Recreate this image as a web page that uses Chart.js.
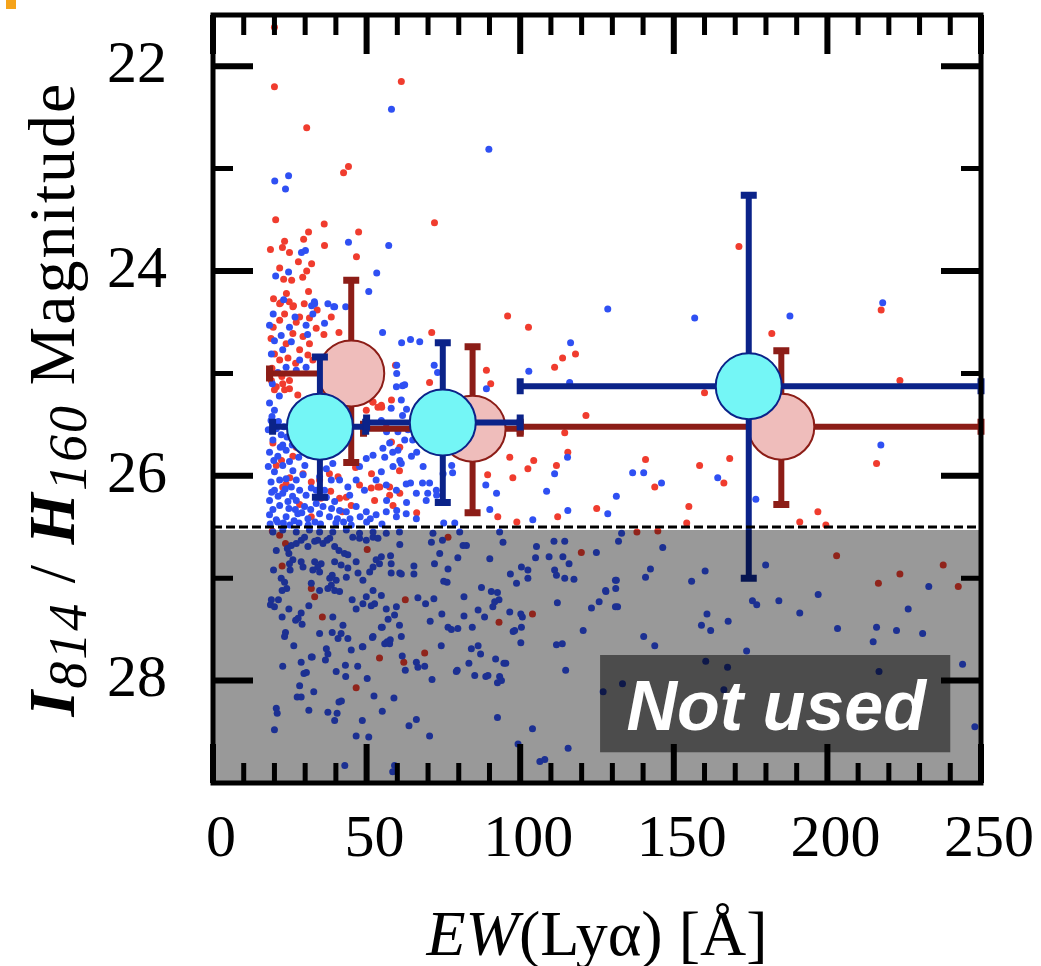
<!DOCTYPE html>
<html>
<head>
<meta charset="utf-8">
<script src="https://cdn.jsdelivr.net/npm/chart.js@4.4.1/dist/chart.umd.min.js"></script>
<style>
  html, body { margin: 0; padding: 0; background: #fff; }
  canvas { display: block; }
</style>
</head>
<body>
<canvas id="myChart" width="1041" height="966"></canvas>
<script>
'use strict';
// axis ticks
var xTicks = [0, 50, 100, 150, 200, 250];
var xMinor = [10, 20, 30, 40, 60, 70, 80, 90, 110, 120, 130, 140, 160, 170, 180, 190, 210, 220, 230, 240];
var yTicks = [22, 24, 26, 28];
var yMinor = [23, 25, 27];
var magLimit = 26.5;

// binned averages (EW, mag) with error bar ends
var redBinEW = [45, 84.5, 185];
var redBinMag = [25.0, 25.54, 25.52];
var redBinEWLo = [18.4, 49, 100];
var redBinEWHi = [50, 100, 250];
var redBinMagLo = [24.09, 24.74, 24.78];
var redBinMagHi = [25.87, 26.36, 26.28];

var blueBinEW = [34.8, 74.8, 174.4];
var blueBinMag = [25.52, 25.48, 25.125];
var blueBinEWLo = [19.4, 50, 100];
var blueBinEWHi = [49.7, 100, 250];
var blueBinMagLo = [24.84, 24.70, 23.26];
var blueBinMagHi = [26.21, 26.26, 27.0];

// individual objects [EW, mag]
var redObjects = [
  [20,21.62],[20,22.2],[61.3,22.15],[30.5,22.6],[44.1,22.98],[42.5,23.04],[20.4,23.5],[36.2,23.54],[72.1,23.53],
  [31.1,23.62],[47.4,23.62],[29.5,23.69],[23.3,23.71],[22.6,23.77],[18.7,23.79],[24.9,23.82],[36.3,23.75],[46.7,23.86],
  [27.8,23.91],[32.1,23.93],[21.7,23.97],[30.5,24.0],[29.2,24.06],[23,24.08],[25.6,24.09],[31.1,24.2],[19.7,24.27],
  [22,24.31],[23.9,24.22],[26.2,24.34],
  [171.2,23.76],[217.5,24.38],[181.9,24.61],[223.6,25.07],[160,25.19],[216,25.88],[140.8,25.84],[168.2,25.83],
  [158.4,25.9],[143.8,26.11],[166.3,26.07],[154.9,26.3],[196.9,26.35],[191,26.45],[154.2,26.46],[199.5,26.48],
  [95.9,24.44],[102.7,24.55],[71.2,24.6],[118,24.81],[113.8,24.85],[111.2,24.94],[89,24.97],[90.4,25.1],[121.4,25.41],
  [114.5,25.58],[111.8,25.9],[115.5,25.77],[96.6,25.82],[102.5,25.93],[104.4,25.85],[97.6,26.02],[124.9,26.32],
  [112.2,26.4],[98.9,26.45],[92.7,26.4],[89.4,25.99],[66.3,26.36],[60.8,26.17],[57.5,26.11],[54.3,26.11],[51.6,25.98],
  [58.1,25.26],[54.9,25.33],[52,25.28],[58.1,25.67],[60.8,25.72],[70.5,25.09],[59.4,24.92],
  [21.7,24.32],[26,24.35],[23.3,24.42],[28.2,24.45],[21.7,24.48],[27.1,24.5],[31.4,24.46],[33.6,24.56],[29.3,24.64],
  [31.4,24.71],[23.8,24.71],[26,24.61],[20,24.81],[21.7,24.87],[24.4,24.85],[28.2,24.77],[30.9,24.82],[32.5,24.87],
  [19,25.07],[20.6,25.13],[23.3,25.16],[24.9,25.07],[19.2,24.95],[22.4,25.03],[38.5,24.45],[41,24.6],
  [22.7,25.1],[20,25.16],[24.9,25.15],[27.6,25.21],[19.5,25.68],[20.6,25.9],[27.1,25.72],[26,25.81],[29.3,25.98],
  [23.8,26.08],[32,26.06],[22.7,26.11],[40.7,26.01],[43.4,26.21],[45,26.29],[41.2,26.22],[47.7,26.09],[51.5,26.12],
  [53.7,26.11],[52.6,26.24],[57.5,26.19],[58.6,26.29],[60.7,25.95],[53.7,25.33],[54.8,25.31],[56.4,25.49],[52.1,25.28],
  [48.8,25.2],[49.9,25.36],[32,26.4],[37.9,25.98],[34.7,26.04],
  [25.3,25.5],[28.5,25.6],[30.7,25.55],[22.3,25.85],[25,26.02],[28.2,26.28],[35.1,26.22],[38.3,26.15],[42.1,26.35],
  [19.6,24.55],[24.8,24.3],[29.7,24.32],[33.9,24.38],[36.1,24.62],[39.2,24.78],[18.9,24.66],[26.9,24.9],[46.4,25.92],
  [19.3,26.54],[21.7,26.58],[23.6,26.66],[22.5,26.88],[32,27.1],[33.1,27.18],[35.6,27.38],[46.6,28.07],[54.2,27.78],
  [62.1,27.82],[68.9,27.73],[62.6,27.21],[76.5,26.6],[93.1,27.43],[104,27.35],[119.9,26.75],[50.2,26.72],[203,26.78],
  [216.6,27.05],[223.6,26.96],[237.7,26.87],[242.6,27.08],[138,26.55],[144.8,26.54]
];

var blueObjects = [
  [58.1,22.42],[89.8,22.81],[20.1,23.12],[24.6,23.07],[23.6,23.2],[44.1,23.72],[28.8,23.82],[30.1,23.8],[57.2,23.75],
  [20.4,24.05],[24.6,24.01],[53.3,24.02],[50.7,24.2],[33,24.3],[32.1,24.34],[39.3,24.35],[43.2,24.35],[23,24.28],
  [218,24.31],[128.5,24.37],[156.8,24.46],[187.8,24.44],[217.4,25.7],[136.6,25.97],[140.2,25.97],[146,26.07],
  [164.3,26.02],[131.3,26.2],[128.5,26.37],[176.7,26.23],
  [61.4,24.7],[64.3,24.67],[67.3,24.69],[55.2,24.6],[116.4,24.7],[102.8,24.98],[89,25.15],[116.1,25.09],[59.8,25.0],
  [61.7,25.12],[59.8,24.92],[115.4,25.82],[111.2,25.98],[108.6,26.15],[115.5,26.34],[104.1,26.43],[90.1,26.33],
  [92.3,26.17],[88.8,26.09],[78,25.97],[77.7,25.9],[68.2,26.07],[70.5,26.07],[69.9,26.17],[72.8,26.19],[75.1,26.46],
  [78.7,26.46],[64.3,26.07],[63,26.26],[59.8,26.34],[56.5,26.24],[63,25.35],[61.7,25.41],[56.5,25.57],[58.5,25.77],
  [55.9,25.82],[60.8,25.85],[65,25.65],[66.3,25.77],[72,24.92],[73.1,24.99],
  [18.4,24.53],[22.2,24.63],[25.5,24.69],[20,24.68],[30.3,24.53],[32.5,24.42],[33.1,24.32],[36.3,24.51],[37.4,24.32],
  [39.6,24.35],[28.2,24.87],[23.8,24.94],[21.1,24.99],[27.1,24.97],[30.3,24.94],[19,24.81],[22.7,24.77],
  [18.4,25.29],[20,25.36],[18.9,25.46],[18,25.55],[20.6,25.54],[19.5,25.65],[22.2,25.6],[22.7,25.7],[18.4,25.77],
  [21.1,25.81],[23.8,25.75],[18,25.91],[20,25.96],[22.7,25.9],[24.9,25.86],[26,25.95],[18.9,26.06],[21.7,26.04],
  [23.8,26.03],[27.1,26.04],[29.3,25.99],[20,26.14],[22.7,26.17],[25.5,26.11],[28.2,26.14],[30.3,26.19],[32,26.12],
  [18.4,26.24],[21.7,26.29],[24.4,26.25],[27.1,26.24],[29.8,26.3],[33.6,26.27],[36.9,26.21],[39.6,26.25],[41.2,26.34],
  [18.4,26.38],[20.6,26.43],[23.8,26.4],[27.6,26.37],[30.9,26.42],[34.7,26.37],[37.9,26.4],[43.4,26.35],[46.6,26.3],
  [49.9,26.35],[53.1,26.38],[56.4,26.35],[59.7,26.4],[62.9,26.37],[66.2,26.42],[47.7,25.91],[49.9,25.83],[52.1,25.8],
  [55.3,25.73],[57.5,25.68],[60.2,25.75],[61.3,25.88],[58.6,25.91],[54.8,25.96],[53.1,26.04],[56.4,26.09],[59.7,26.14],
  [62.9,26.08],[66.2,26.17],[69.4,26.24],[72.7,26.14],[74.9,25.98],[68.4,25.91],[64.6,25.81],[62.4,25.65],[63.5,25.55],
  [60.2,25.57],[56.4,25.55],[54.8,25.46],[58,25.34],[61.3,25.26],[59.7,25.13],[62.4,25.11],[44.5,25.2],[42.8,25.11],
  [39,25.88],[41.2,26.04],[43.9,26.11],[46.6,26.04],[44.5,26.19],[49.3,26.14],[34.7,26.01],[36.9,25.93],[38.5,26.04],
  [33.6,26.14],[36.3,26.14],
  [19.2,25.42],[21.3,25.47],[23.1,25.52],[19.8,25.85],[21.9,25.72],[24.1,25.62],[25.8,25.7],[27.9,25.82],[29.9,25.9],
  [31.2,25.8],[19.1,26.16],[21.2,26.2],[23.5,26.13],[25.9,26.2],[26.8,26.33],[28.9,26.36],[31.8,26.33],[19.5,26.33],
  [22.9,26.46],[24.7,26.32],[26.4,26.44],[33.2,26.45],[35.8,26.3],[38.6,26.32],[40.5,26.42],[42.5,26.45],[30.8,24.62],
  [26.7,24.45],[19.6,24.42],[24.9,24.55],[19.3,25.1],[21.6,25.22],[18.5,25.0],[44.6,26.42],[47.9,26.4],[51.2,26.42],
  [18.6,26.47],[21,26.45],[25,26.48],[28,26.46],[31,26.48],[35,26.47],[40,26.46],[45,26.48],[50,26.45],[55,26.47],
  [133,26.56],[132,26.64],[146.4,26.7],[142.4,26.91],[140.8,26.99],[131,27.02],[131.1,27.1],[127.9,27.13],[131.7,27.28],
  [155.8,27.03],[160.2,26.93],[179.9,26.87],[175.6,27.22],[177,27.26],[184.2,27.22],[197,27.16],[191,27.34],[160.8,27.35],
  [159,27.46],[162,27.51],[167.7,27.42],[203.3,27.49],[216,27.48],[222.5,27.51],[231,27.54],[226.3,27.3],[233,27.08],
  [214.9,27.62],[140.2,27.57],[143.8,27.66],[173.7,27.71],[244,27.84],[160.4,27.81],[167.5,27.87],[133.3,28.03],
  [127,28.11],[216.8,27.91],[248,28.45],[166.3,28.09],
  [42.9,28.83],[59.1,28.83],[58.5,28.89],[106.4,28.79],[108,28.77],[115.6,28.66],[99.3,28.62],[104,28.47],[92.6,28.36],
  [70.5,28.54],[46.6,28.54],[50.7,28.55],[20,28.48],[63.8,28.44],[66.2,28.38],[48.6,28.39],[55.1,28.3],[20.6,28.27],
  [20.9,28.32],[31.2,28.29],[37.4,28.31],[40.4,28.32],[39.6,28.39],[27.4,28.16],[28.7,28.16],[28.2,28.05],[32.8,28.11],
  [41,28.21],[41.8,28.2],[52.4,28.15],[58.9,28.17],[22.7,27.86],[28.7,27.82],[29.6,27.93],[30.4,27.92],[32.3,27.77],
  [36.6,27.8],[37.4,27.74],[40.1,27.91],[43.2,27.96],[43.1,27.85],[45,27.7],[47.1,27.86],[50.2,27.98],[48.6,27.67],
  [51.9,27.58],[55.1,27.48],[56.7,27.62],[57.5,27.64],[61.3,27.57],[61.6,27.76],[62.6,27.9],[66.2,27.82],[66.7,27.87],
  [68.9,27.86],[71.3,27.99],[74.3,27.66],[79.5,27.9],[79.2,27.91],[83.3,27.83],[84.1,27.69],[86.3,27.66],[87.1,27.74],
  [85.2,27.95],[88.8,27.96],[89.5,27.95],[92,27.79],[93.3,27.96],[92.6,28.02],[93.9,28],[94.7,27.83],[95.3,27.83],
  [111.8,27.65],[113.7,27.64],[114.8,27.9],[120.5,27.51],[100.2,27.63],[97.7,27.52],[98.2,27.51],[100.4,27.48],
  [100.7,27.38],[100.2,27.35],[96.6,27.33],[88.4,27.38],[86.3,27.31],[91.1,27.28],[91.7,27.23],[93.1,27.21],[90.6,27.13],
  [92.6,27.14],[81.7,27.18],[84.4,27.48],[76.5,27.48],[77.6,27.5],[79.7,27.49],[81.7,27.37],[74.5,27.35],[70.7,27.42],
  [71.9,27.2],[69.2,27.25],[66.7,27.19],[87.4,27.09],[90.1,26.81],[79.7,26.8],[82.5,26.68],[81.4,26.68],[76.5,26.91],
  [76.2,27.04],[75.1,27.03],[73.8,26.76],[72.1,26.86],[71.1,26.65],[74.7,26.63],[65.4,26.88],[65.4,26.96],[60.8,26.95],
  [61.3,26.96],[58,26.86],[60.8,26.67],[57.8,26.78],[94.4,26.65],[105.3,26.69],[109.4,26.79],[111,26.64],[114.5,26.64],
  [115.9,26.86],[113.9,26.79],[124.8,26.75],[105,26.8],[100.4,26.89],[102.5,26.92],[96.8,26.96],[98.8,27.05],[102.5,27],
  [111.2,26.92],[111.8,26.97],[114.5,27],[117.5,27.01],[112.1,27.24],[123.2,27.29],[125.7,27.23],[127.8,27.12],
  [131.3,27.02],[131,27.28],
  [19.7,26.92],[20.6,26.73],[22.2,27.0],[23.3,27.04],[24,27.1],[22.5,27.12],[19,27.21],[18.7,27.26],[20,27.28],
  [21.3,27.21],[24.7,27.3],[22.5,27.38],[23.6,27.53],[23.3,27.57],[26.3,27.66],[27.7,27.39],[29,27.45],[26.9,27.41],
  [28.7,27.34],[31.2,27.27],[32,27.05],[34.7,27.12],[37.4,27.1],[38.5,27.07],[38,27.0],[40.1,27.02],[38.8,26.97],
  [39.6,27.12],[41.2,27.13],[43.4,26.99],[45.3,27.21],[46.6,27.3],[48.8,27.25],[49.9,27.18],[51.5,27.27],[52.6,27.25],
  [52.1,27.12],[54.8,27.17],[56.4,27.3],[59.7,27.28],[59.1,27.36],[57,27.4],[54.8,27.48],[60.7,27.46],[57.7,27.6],
  [55.9,27.64],[52.1,27.57],[48.8,27.67],[43.9,27.59],[42.3,27.46],[41.7,27.54],[39,27.38],[40.7,27.59],[38.8,27.53],
  [36.9,27.69],[34.7,27.54],[32,27.77],[25.1,26.92],[26,26.82],[24.7,26.76],[24.2,26.71],[25.5,26.68],[27.1,26.66],
  [28.7,26.63],[29.8,26.6],[30.9,26.69],[33.1,26.64],[34.1,26.63],[35.8,26.66],[37.1,26.63],[38,26.61],[39.6,26.69],
  [41,26.73],[42.8,26.76],[43.9,26.77],[45.5,26.6],[47.7,26.61],[49.9,26.63],[52.1,26.6],[53.7,26.61],[54.8,26.79],
  [53.1,26.82],[54.2,26.86],[52.1,26.89],[51,26.94],[48.8,27.02],[46.6,26.84],[47.2,26.95],[43.9,26.9],[41.7,26.87],
  [39.6,26.84],[35.2,26.86],[34.1,26.89],[33.1,26.84],[32.5,26.92],[34.7,26.94],[29.3,26.89],[28.7,26.84],[24.9,26.86],
  [58,26.95],
  [19.5,26.55],[22.7,26.53],[27.1,26.55],[31.4,26.53],[34.7,26.55],[39,26.55],[43.4,26.53],[47.7,26.56],[52.1,26.55],
  [56.4,26.56],[60.7,26.55],[71.6,26.56],[80.3,26.55],[93.3,26.55]
];

// "Not used" label box, in data units
var notUsedBox = { ew0: 126, ew1: 240, mag0: 27.75, mag1: 28.7 };

var serif = "'Liberation Serif', 'Times New Roman', serif";

var toPoints = function (list) {
  var out = [];
  for (var i = 0; i < list.length; i++) {
    out.push({ x: list[i][0], y: list[i][1] });
  }
  return out;
};
var zipPoints = function (xs, ys) {
  var out = [];
  for (var i = 0; i < xs.length; i++) {
    out.push({ x: xs[i], y: ys[i] });
  }
  return out;
};

var drawErrors = function (chart, ew, mag, ewLo, ewHi, magLo, magHi, color) {
  var ctx = chart.ctx;
  var sx = chart.scales.x;
  var sy = chart.scales.y;
  ctx.save();
  ctx.strokeStyle = color;
  for (var i = 0; i < ew.length; i++) {
    var px = sx.getPixelForValue(ew[i]);
    var py = sy.getPixelForValue(mag[i]);
    var x0 = sx.getPixelForValue(ewLo[i]);
    var x1 = sx.getPixelForValue(ewHi[i]);
    var y0 = sy.getPixelForValue(magLo[i]);
    var y1 = sy.getPixelForValue(magHi[i]);
    ctx.lineWidth = 6;
    ctx.beginPath();
    ctx.moveTo(x0, py); ctx.lineTo(x1, py);
    ctx.moveTo(px, y0); ctx.lineTo(px, y1);
    ctx.stroke();
    // caps
    ctx.lineWidth = 7;
    ctx.beginPath();
    ctx.moveTo(x0, py - 8); ctx.lineTo(x0, py + 8);
    ctx.moveTo(x1, py - 8); ctx.lineTo(x1, py + 8);
    ctx.moveTo(px - 8, y0); ctx.lineTo(px + 8, y0);
    ctx.moveTo(px - 8, y1); ctx.lineTo(px + 8, y1);
    ctx.stroke();
  }
  ctx.restore();
};

var drawRich = function (ctx, parts) {
  var total = 0;
  for (var i = 0; i < parts.length; i++) {
    ctx.font = parts[i].font;
    parts[i].w = ctx.measureText(parts[i].text).width;
    total += parts[i].w;
  }
  var x = -total / 2;
  for (var j = 0; j < parts.length; j++) {
    ctx.font = parts[j].font;
    ctx.fillText(parts[j].text, x, parts[j].dy || 0);
    x += parts[j].w;
  }
};

var noPadding = function (scale) {
  scale.paddingTop = 0;
  scale.paddingBottom = 0;
  scale.paddingLeft = 0;
  scale.paddingRight = 0;
};

var decorPlugin = {
  id: 'decor',
  beforeDatasetDraw: function (chart, args) {
    if (args.index === 1) {
      drawErrors(chart, redBinEW, redBinMag, redBinEWLo, redBinEWHi, redBinMagLo, redBinMagHi, '#8c1d17');
    }
    if (args.index === 0) {
      drawErrors(chart, blueBinEW, blueBinMag, blueBinEWLo, blueBinEWHi, blueBinMagLo, blueBinMagHi, '#0b2389');
    }
  },
  afterDatasetsDraw: function (chart) {
    var ctx = chart.ctx;
    var a = chart.chartArea;
    var sx = chart.scales.x;
    var sy = chart.scales.y;
    var yLim = sy.getPixelForValue(magLimit);
    ctx.save();
    // shaded region below the magnitude limit
    ctx.fillStyle = 'rgba(0,0,0,0.4)';
    ctx.fillRect(a.left, yLim + 3, a.right - a.left, a.bottom - yLim - 3);
    // label box
    var bx0 = sx.getPixelForValue(notUsedBox.ew0);
    var bx1 = sx.getPixelForValue(notUsedBox.ew1);
    var by0 = sy.getPixelForValue(notUsedBox.mag0);
    var by1 = sy.getPixelForValue(notUsedBox.mag1);
    ctx.fillStyle = 'rgba(0,0,0,0.5)';
    ctx.fillRect(bx0, by0, bx1 - bx0, by1 - by0);
    ctx.fillStyle = '#ffffff';
    ctx.font = "italic bold 70px 'Liberation Sans', Arial, sans-serif";
    ctx.textAlign = 'center';
    ctx.textBaseline = 'alphabetic';
    ctx.fillText('Not used', (bx0 + bx1) / 2 + 1, (by0 + by1) / 2 + 26);
    // dashed limit line
    ctx.strokeStyle = '#000';
    ctx.lineWidth = 3;
    ctx.setLineDash([9, 4]);
    ctx.beginPath();
    ctx.moveTo(a.left, yLim); ctx.lineTo(a.right, yLim);
    ctx.stroke();
    ctx.setLineDash([]);

    // inward ticks on all four sides
    ctx.strokeStyle = '#000';
    var tickX = function (v, len, w) {
      var p = sx.getPixelForValue(v);
      ctx.lineWidth = w;
      ctx.beginPath();
      ctx.moveTo(p, a.bottom); ctx.lineTo(p, a.bottom - len);
      ctx.moveTo(p, a.top); ctx.lineTo(p, a.top + len);
      ctx.stroke();
    };
    var tickY = function (v, len, w) {
      var p = sy.getPixelForValue(v);
      ctx.lineWidth = w;
      ctx.beginPath();
      ctx.moveTo(a.left, p); ctx.lineTo(a.left + len, p);
      ctx.moveTo(a.right, p); ctx.lineTo(a.right - len, p);
      ctx.stroke();
    };
    for (var i = 0; i < xTicks.length; i++) { tickX(xTicks[i], 39, 6); }
    for (var j = 0; j < xMinor.length; j++) { tickX(xMinor[j], 20, 5); }
    for (var k = 0; k < yTicks.length; k++) { tickY(yTicks[k], 40, 6); }
    for (var m = 0; m < yMinor.length; m++) { tickY(yMinor[m], 20, 5); }
    // frame
    ctx.lineWidth = 5;
    ctx.strokeRect(a.left, a.top, a.right - a.left, a.bottom - a.top);
    ctx.restore();
  },
  afterDraw: function (chart) {
    var ctx = chart.ctx;
    var a = chart.chartArea;
    ctx.save();
    ctx.fillStyle = '#000';
    ctx.textAlign = 'left';
    ctx.textBaseline = 'alphabetic';
    // x title
    ctx.save();
    ctx.translate((a.left + a.right) / 2, 955);
    drawRich(ctx, [
      { text: 'EW', font: 'italic 64px ' + serif },
      { text: '(Ly\u03b1) [\u00c5]', font: '64px ' + serif }
    ]);
    ctx.restore();
    // y title
    ctx.save();
    ctx.translate(74, (a.top + a.bottom) / 2);
    ctx.rotate(-Math.PI / 2);
    ctx.letterSpacing = '2px';
    drawRich(ctx, [
      { text: 'I', font: 'italic bold 66px ' + serif },
      { text: '814', font: 'italic 54px ' + serif, dy: 12 },
      { text: ' / ', font: '66px ' + serif },
      { text: 'H', font: 'italic bold 66px ' + serif },
      { text: '160', font: 'italic 54px ' + serif, dy: 12 },
      { text: ' Magnitude', font: '66px ' + serif }
    ]);
    ctx.restore();
    // small orange corner mark
    ctx.fillStyle = '#f5a31a';
    ctx.fillRect(6, 0, 10, 9);
    ctx.restore();
  }
};

var ctx = document.getElementById('myChart').getContext('2d');
var chart = new Chart(ctx, {
  type: 'scatter',
  data: {
    datasets: [{
      label: 'blue bins',
      data: zipPoints(blueBinEW, blueBinMag),
      pointRadius: 33,
      backgroundColor: '#74f6f6',
      borderColor: '#0b2389',
      borderWidth: 2
    }, {
      label: 'red bins',
      data: zipPoints(redBinEW, redBinMag),
      pointRadius: 33,
      backgroundColor: '#efbdbb',
      borderColor: '#8c1d17',
      borderWidth: 2
    }, {
      label: 'blue objects',
      data: toPoints(blueObjects),
      pointRadius: 3.5,
      borderWidth: 0,
      backgroundColor: '#2f50f3'
    }, {
      label: 'red objects',
      data: toPoints(redObjects),
      pointRadius: 3.5,
      borderWidth: 0,
      backgroundColor: '#f03c2e'
    }]
  },
  options: {
    responsive: false,
    animation: false,
    devicePixelRatio: 1,
    layout: { autoPadding: false, padding: { top: 15, right: 60, left: 0, bottom: 0 } },
    plugins: { legend: { display: false }, tooltip: { enabled: false } },
    scales: {
      x: {
        type: 'linear',
        min: 0,
        max: 250,
        grid: { display: false },
        border: { display: false },
        afterFit: function (scale) { scale.height = 183; noPadding(scale); },
        afterBuildTicks: function (scale) {
          scale.ticks = xTicks.map(function (v) { return { value: v }; });
        },
        ticks: {
          padding: 13,
          labelOffset: 8,
          maxRotation: 0,
          color: '#000',
          font: { family: serif, size: 60 }
        }
      },
      y: {
        type: 'linear',
        reverse: true,
        min: 21.5,
        max: 29,
        grid: { display: false },
        border: { display: false },
        afterFit: function (scale) { scale.width = 213; noPadding(scale); },
        afterBuildTicks: function (scale) {
          scale.ticks = yTicks.map(function (v) { return { value: v }; });
        },
        ticks: {
          padding: 38,
          color: '#000',
          font: { family: serif, size: 60 }
        }
      }
    }
  },
  plugins: [decorPlugin]
});
</script>
</body>
</html>
